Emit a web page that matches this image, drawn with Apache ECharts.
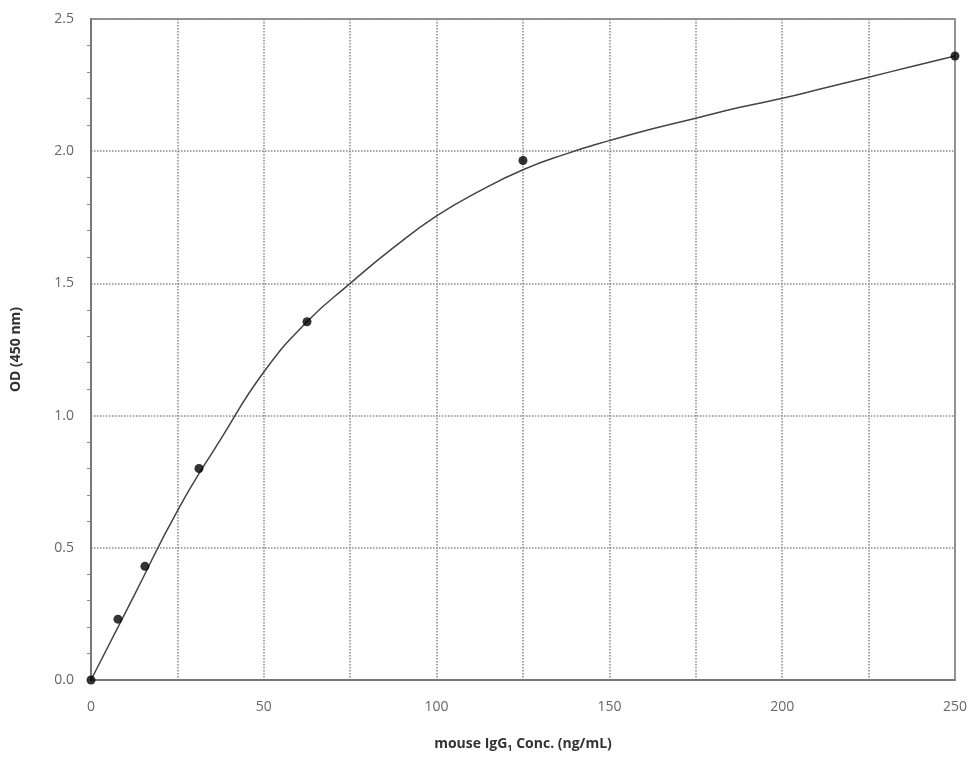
<!DOCTYPE html>
<html>
<head>
<meta charset="utf-8">
<script src="https://cdn.jsdelivr.net/npm/echarts@6/dist/echarts.min.js"></script>
<style>html,body{margin:0;padding:0;background:#fff}#c{width:980px;height:778px}</style>
</head>
<body>
<div id="c"></div>
<script>
// Measured standards
const concentrations = [0, 7.8, 15.6, 31.25, 62.5, 125, 250];
const odValues = [0.0, 0.23, 0.43, 0.80, 1.355, 1.965, 2.36];
// Fitted curve
const curveX = [0, 12.5, 25, 37.5, 50, 62.5, 75, 87.5, 100, 112.5, 125, 137.5, 150, 162.5, 175, 187.5, 200, 212.5, 225, 237.5, 250];
const curveY = [0, 0.32, 0.64, 0.91, 1.165, 1.355, 1.50, 1.635, 1.755, 1.85, 1.93, 1.99, 2.04, 2.085, 2.125, 2.165, 2.20, 2.24, 2.28, 2.32, 2.36];
const xTicks = [0, 50, 100, 150, 200, 250];

const chart = echarts.init(document.getElementById('c'), null, {renderer: 'canvas'});
const font = '"Open Sans", "Liberation Sans", sans-serif';
chart.setOption({
  animation: false,
  backgroundColor: '#fff',
  grid: {left: 91, top: 19, right: 25, bottom: 98, show: true, borderColor: '#777', borderWidth: 1.5, backgroundColor: 'transparent'},
  xAxis: {
    type: 'value', min: 0, max: 250, interval: 25,
    name: '{b|mouse IgG}{s|1}{b| Conc. (ng/mL)}',
    nameLocation: 'middle', nameGap: 56,
    nameTextStyle: {rich: {
      b: {fontFamily: font, fontWeight: 'bold', fontSize: 14, color: '#333'},
      s: {fontFamily: font, fontWeight: 'bold', fontSize: 9, color: '#333', verticalAlign: 'bottom', padding: [8, 0, 0, 0]}
    }},
    axisLine: {show: true, lineStyle: {color: '#777', width: 2}},
    axisTick: {show: false},
    axisLabel: {color: '#666', fontFamily: font, fontSize: 14, margin: 20,
      formatter: v => xTicks.indexOf(v) >= 0 ? String(v) : ''},
    splitLine: {show: true, lineStyle: {color: '#888', type: 'dotted', width: 1.5}}
  },
  yAxis: {
    type: 'value', min: 0, max: 2.5, interval: 0.5,
    name: 'OD (450 nm)', nameLocation: 'middle', nameGap: 68,
    nameTextStyle: {fontFamily: font, fontWeight: 'bold', fontSize: 14, color: '#333'},
    axisLine: {show: true, lineStyle: {color: '#777', width: 2}},
    axisTick: {show: false},
    minorTick: {show: true, splitNumber: 5, length: 4, lineStyle: {color: '#888'}},
    axisLabel: {color: '#666', fontFamily: font, fontSize: 14, margin: 17, formatter: v => v.toFixed(1)},
    splitLine: {show: true, lineStyle: {color: '#888', type: 'dotted', width: 1.5}}
  },
  series: [
    {type: 'line', data: curveX.map((x, i) => [x, curveY[i]]), smooth: 0.5, showSymbol: false,
     lineStyle: {color: '#444', width: 1.5}, z: 2},
    {type: 'scatter', data: concentrations.map((x, i) => [x, odValues[i]]), symbol: 'circle', symbolSize: 9,
     itemStyle: {color: '#000'}, z: 3}
  ]
});
</script>
</body>
</html>
